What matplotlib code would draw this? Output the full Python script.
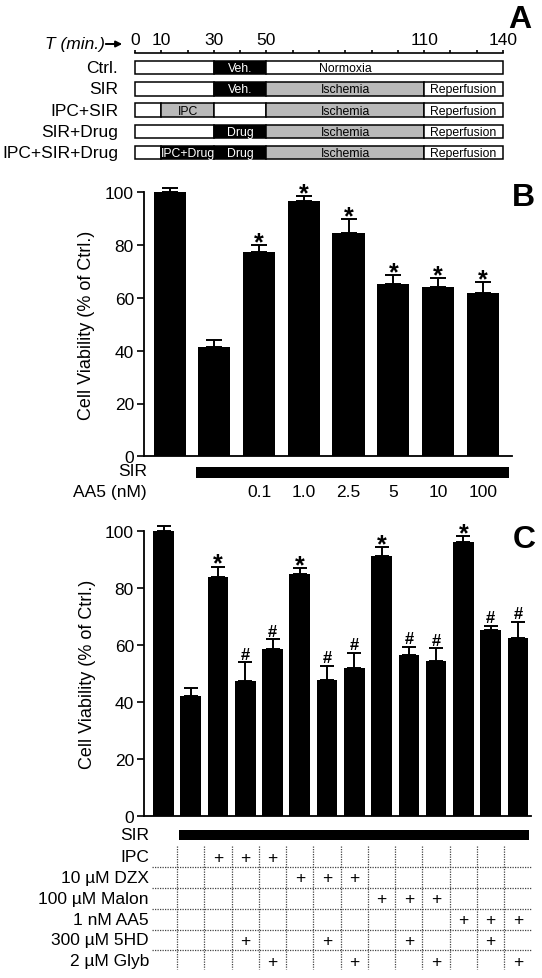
import matplotlib
matplotlib.use('Agg')
import matplotlib.pyplot as plt
import numpy as np

plt.rcParams['font.family'] = ['Liberation Sans', 'DejaVu Sans']

W, H = 542, 979

# ---------------- data ----------------
# Panel A: protocol timelines (start, end, fill, label, label position)
row_labels = ['Ctrl.', 'SIR', 'IPC+SIR', 'SIR+Drug', 'IPC+SIR+Drug']
time_labels = [0, 10, 30, 50, 110, 140]
time_minor = list(range(0, 141, 10))
GRAY = '#b9b9b9'
seg_ctrl = [(0, 30, 'white', '', 15), (30, 50, 'black', 'Veh.', 40), (50, 140, 'white', 'Normoxia', 80)]
seg_sir = [(0, 30, 'white', '', 15), (30, 50, 'black', 'Veh.', 40), (50, 110, GRAY, 'Ischemia', 80),
           (110, 140, 'white', 'Reperfusion', 125)]
seg_ipc = [(0, 10, 'white', '', 5), (10, 30, GRAY, 'IPC', 20), (30, 50, 'white', '', 40),
           (50, 110, GRAY, 'Ischemia', 80), (110, 140, 'white', 'Reperfusion', 125)]
seg_drug = [(0, 30, 'white', '', 15), (30, 50, 'black', 'Drug', 40), (50, 110, GRAY, 'Ischemia', 80),
            (110, 140, 'white', 'Reperfusion', 125)]
seg_ipcdrug = [(0, 10, 'white', '', 5), (10, 30, 'black', 'IPC+Drug', 20), (30, 50, 'black', 'Drug', 40),
               (50, 110, GRAY, 'Ischemia', 80), (110, 140, 'white', 'Reperfusion', 125)]
timelines = [seg_ctrl, seg_sir, seg_ipc, seg_drug, seg_ipcdrug]

# Panel B
b_vals = [100, 41.5, 77.2, 96.6, 84.4, 65.1, 64.1, 61.8]
b_err = [1.8, 2.4, 2.8, 2.0, 5.5, 3.6, 3.4, 4.3]
b_star = [False, False, True, True, True, True, True, True]
b_aa5 = ['', '', '0.1', '1.0', '2.5', '5', '10', '100']

# Panel C
c_vals = [100, 42.0, 83.8, 47.1, 58.6, 84.8, 47.5, 51.8, 91.2, 56.3, 54.2, 96.2, 65.0, 62.5]
c_err = [1.7, 2.7, 3.6, 6.8, 3.4, 2.2, 5.2, 5.4, 3.2, 3.0, 4.6, 1.8, 1.7, 5.6]
c_mark = ['', '', '*', '#', '#', '*', '#', '#', '*', '#', '#', '*', '#', '#']
treat_labels = ['IPC', '10 µM DZX', '100 µM Malon', '1 nM AA5', '300 µM 5HD', '2 µM Glyb']
t_ipc = [0, 0, 1, 1, 1, 0, 0, 0, 0, 0, 0, 0, 0, 0]
t_dzx = [0, 0, 0, 0, 0, 1, 1, 1, 0, 0, 0, 0, 0, 0]
t_malon = [0, 0, 0, 0, 0, 0, 0, 0, 1, 1, 1, 0, 0, 0]
t_aa5 = [0, 0, 0, 0, 0, 0, 0, 0, 0, 0, 0, 1, 1, 1]
t_5hd = [0, 0, 0, 1, 0, 0, 1, 0, 0, 1, 0, 0, 1, 0]
t_glyb = [0, 0, 0, 0, 1, 0, 0, 1, 0, 0, 1, 0, 0, 1]
treatments = [t_ipc, t_dzx, t_malon, t_aa5, t_5hd, t_glyb]


def axes_px(fig, left, right, top, bottom):
    return fig.add_axes([left / W, 1 - bottom / H, (right - left) / W, (bottom - top) / H])


fig = plt.figure(figsize=(W / 100, H / 100), dpi=100)

# ---------------- Panel A ----------------
axA = axes_px(fig, 135, 503, 54, 172)
axA.set_xlim(0, 140)
axA.set_ylim(172, 54)
for s in ['left', 'right', 'bottom']:
    axA.spines[s].set_visible(False)
axA.spines['top'].set_linewidth(1.2)
axA.xaxis.tick_top()
axA.set_xticks(time_labels)
axA.set_xticklabels([str(t) for t in time_labels], fontsize=12.5)
axA.set_xticks(time_minor, minor=True)
axA.tick_params(axis='x', which='both', direction='out', length=2.5, width=1.2, pad=1.5)
axA.set_yticks([])
row_h = 13.3
for i, segs in enumerate(timelines):
    yc = 68.7 + 21.2 * i
    for (s0, s1, fill, lab, lx) in segs:
        axA.barh(yc, s1 - s0, left=s0, height=row_h, color=fill, edgecolor='black',
                 linewidth=1.1, clip_on=False)
        if lab:
            tc = 'white' if fill == 'black' else 'black'
            axA.text(lx, yc + 0.5, lab, ha='center', va='center', fontsize=8.8, color=tc)
    fig.text(118 / W, 1 - yc / H, row_labels[i], ha='right', va='center', fontsize=12.5)
fig.text(45 / W, 1 - 44 / H, 'T (min.)', ha='left', va='center', fontsize=12.5, style='italic')
fig.add_artist(matplotlib.patches.FancyArrowPatch(
    (103 / W, 1 - 45 / H), (125 / W, 1 - 45 / H), transform=fig.transFigure,
    arrowstyle='-|>', mutation_scale=9, lw=1.4, color='black'))
fig.text(520 / W, 1 - 20 / H, 'A', ha='center', va='center', fontsize=23, fontweight='bold')

# ---------------- Panel B ----------------
axB = axes_px(fig, 143.7, 511.8, 193.3, 457.3)
xb = np.arange(len(b_vals))
axB.bar(xb, b_vals, width=0.72, color='black',
        yerr=[np.zeros(len(b_err)), b_err],
        error_kw=dict(ecolor='black', elinewidth=1.4, capsize=6, capthick=1.4))
axB.set_xlim(-0.58, 7.65)
axB.set_ylim(0, 100)
axB.set_yticks(range(0, 101, 20))
axB.tick_params(axis='y', labelsize=12.5, length=5, width=1.2, pad=2)
axB.set_xticks([])
for s in ['top', 'right']:
    axB.spines[s].set_visible(False)
for s in ['left', 'bottom']:
    axB.spines[s].set_linewidth(1.3)
axB.set_ylabel('Cell Viability (% of Ctrl.)', fontsize=13)
axB.yaxis.set_label_coords(-0.131, 0.5)
for x, v, e, st in zip(xb, b_vals, b_err, b_star):
    if st:
        axB.annotate('*', (x, v + e), xytext=(0, -3), textcoords='offset points',
                     ha='center', va='baseline', fontsize=18, fontweight='bold', annotation_clip=False)
for art in axB.get_children():
    try:
        art.set_clip_on(False)
    except Exception:
        pass
fig.text(523 / W, 1 - 198 / H, 'B', ha='center', va='center', fontsize=23, fontweight='bold')

axBt = axes_px(fig, 143.7, 511.8, 460, 505)
axBt.set_xlim(-0.58, 7.65)
axBt.set_ylim(505, 460)
axBt.axis('off')
axBt.barh(473.5, 7.59 - 0.58, left=0.58, height=11.6, color='black')
for x, lab in zip(xb, b_aa5):
    axBt.text(x, 493, lab, ha='center', va='center', fontsize=12.5)
fig.text(147 / W, 1 - 472 / H, 'SIR', ha='right', va='center', fontsize=12.5)
fig.text(147 / W, 1 - 493 / H, 'AA5 (nM)', ha='right', va='center', fontsize=12.5)

# ---------------- Panel C ----------------
axC = axes_px(fig, 143.7, 531.5, 531.7, 816.7)
xc = np.arange(len(c_vals))
axC.bar(xc, c_vals, width=0.76, color='black',
        yerr=[np.zeros(len(c_err)), c_err],
        error_kw=dict(ecolor='black', elinewidth=1.4, capsize=5, capthick=1.4))
axC.set_xlim(-0.73, 13.5)
axC.set_ylim(0, 100)
axC.set_yticks(range(0, 101, 20))
axC.tick_params(axis='y', labelsize=12.5, length=5, width=1.2, pad=2)
axC.set_xticks([])
for s in ['top', 'right']:
    axC.spines[s].set_visible(False)
for s in ['left', 'bottom']:
    axC.spines[s].set_linewidth(1.3)
axC.set_ylabel('Cell Viability (% of Ctrl.)', fontsize=13)
axC.yaxis.set_label_coords(-0.124, 0.5)
for x, v, e, m in zip(xc, c_vals, c_err, c_mark):
    if m == '*':
        axC.annotate('*', (x, v + e), xytext=(0, -3), textcoords='offset points',
                     ha='center', va='baseline', fontsize=18, fontweight='bold', annotation_clip=False)
    elif m == '#':
        axC.annotate('#', (x, v + e), xytext=(0, 2.5), textcoords='offset points',
                     ha='center', va='baseline', fontsize=12, fontweight='bold', annotation_clip=False)
for art in axC.get_children():
    try:
        art.set_clip_on(False)
    except Exception:
        pass
fig.text(524 / W, 1 - 540 / H, 'C', ha='center', va='center', fontsize=23, fontweight='bold')

# table under C
axT = axes_px(fig, 143.7, 531.5, 822, 975)
axT.set_xlim(-0.73, 13.5)
axT.set_ylim(975, 822)
axT.axis('off')
axT.barh(835.8, 13.39 - 0.57, left=0.57, height=10.3, color='black')
fig.text(149 / W, 1 - 835 / H, 'SIR', ha='right', va='center', fontsize=12.5)
row_y = [857.7 + 20.8 * k for k in range(len(treatments))]
for k, (lab, flags) in enumerate(zip(treat_labels, treatments)):
    fig.text(149 / W, 1 - row_y[k] / H, lab, ha='right', va='center', fontsize=12.5)
    for x, f in zip(xc, flags):
        if f:
            axT.text(x, row_y[k] + 0.5, '+', ha='center', va='center', fontsize=12.5)
axT.hlines([y + 10.4 for y in row_y[:-1]], -0.43, 13.47, colors='#444444',
           linestyles=(0, (1, 1)), linewidth=0.9, clip_on=False)
axT.vlines(xc[:-1] + 0.5, 846.7, 970, colors='#444444',
           linestyles=(0, (1, 1)), linewidth=0.9, clip_on=False)

fig.savefig('out.png', dpi=100)
